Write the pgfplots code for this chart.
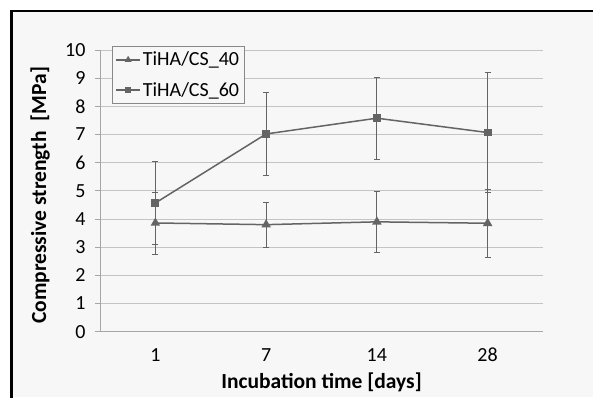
\documentclass[border=0pt]{standalone}
\usepackage{fontspec}
\setmainfont{Carlito}
\usepackage{pgfplots}
\pgfplotsset{compat=1.18}
\definecolor{bg}{HTML}{F7F7F7}
\definecolor{gridc}{HTML}{C4C4C4}
\definecolor{ser}{HTML}{646464}
\definecolor{axc}{HTML}{A6A6A6}
\definecolor{leg}{HTML}{888888}
\begin{document}
\begin{tikzpicture}[x=1pt,y=1pt]
\path[use as bounding box] (-100,-65.3) rectangle (493,331.7);
\fill[white] (-100,-65.3) rectangle (493,331.7);
\fill[bg] (-88.5,-65.3) rectangle (493,320.7);
\draw[black,line width=2.2pt] (-88.5,-66) -- (-88.5,320.7) -- (494,320.7);
\begin{axis}[
  at={(0,0)}, anchor=south west,
  scale only axis, width=443pt, height=281.7pt,
  xmin=0.5, xmax=4.5, ymin=0, ymax=10,
  ytick={0,1,...,10},
  xtick={1,2,3,4}, xticklabels={1,7,14,28},
  x tick style={draw=none},
  extra x ticks={0.5,1.5,2.5,3.5,4.5},
  extra x tick labels={},
  extra x tick style={grid=none, tick style={draw=axc, line width=0.8pt}, major tick length=5pt},
  axis x line*=bottom, axis y line*=left,
  axis line style={axc, line width=0.8pt},
  tick align=outside, major tick length=5pt,
  y tick style={axc, line width=0.8pt},
  ymajorgrids, grid style={gridc, line width=0.8pt},
  tick label style={font=\fontsize{20}{22}\selectfont},
  /pgf/number format/assume math mode=true,
  yticklabel style={xshift=-6pt},
  xticklabel style={yshift=-8pt},
  xlabel={Incubation time [days]},
  ylabel={Compressive strength\ \ [MPa]},
  xlabel style={font=\bfseries\fontsize{21.5}{23}\selectfont, at={(axis description cs:0.5,-0.181)}, anchor=center},
  ylabel style={font=\bfseries\fontsize{21.5}{23}\selectfont, at={(axis description cs:-0.135,0.484)}, anchor=center, rotate=0},
  legend style={at={(axis description cs:0.0271,1.0153)}, anchor=north west,
    draw=leg, line width=0.8pt, fill=bg, font=\fontsize{20}{22}\selectfont,
    row sep=11pt, inner xsep=3pt, inner ysep=4pt},
  legend cell align=left,
  legend image code/.code={\draw[mark repeat=2,mark phase=2,mark size=2.5pt] plot coordinates {(0pt,0pt)(12pt,0pt)(24pt,0pt)};},
]
\addplot[ser, line width=1.5pt, mark=triangle*, mark size=4pt, mark options={solid},
  error bars/.cd, y dir=both, y explicit,
  error bar style={line width=0.8pt, ser},
  error mark options={rotate=90, mark size=3pt, line width=0.8pt, ser}]
coordinates {(1,3.86) +- (0,1.1) (2,3.8) +- (0,0.8) (3,3.9) +- (0,1.08) (4,3.85) +- (0,1.2)};
\addlegendentry{TiHA/CS\_40}
\addplot[ser, line width=1.5pt, mark=square*, mark size=3.2pt, mark options={solid},
  error bars/.cd, y dir=both, y explicit,
  error bar style={line width=0.8pt, ser},
  error mark options={rotate=90, mark size=3pt, line width=0.8pt, ser}]
coordinates {(1,4.57) +- (0,1.47) (2,7.02) +- (0,1.48) (3,7.58) +- (0,1.45) (4,7.07) +- (0,2.14)};
\addlegendentry{TiHA/CS\_60}
\end{axis}
\end{tikzpicture}
\end{document}
